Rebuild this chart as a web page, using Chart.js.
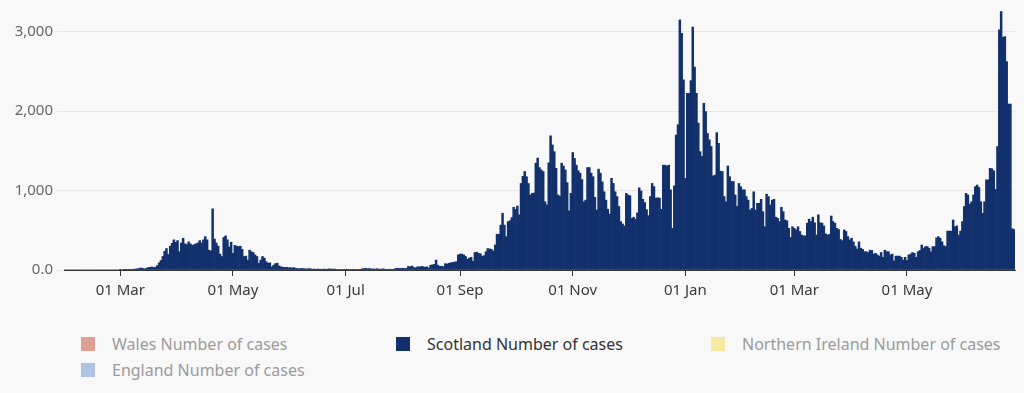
<!DOCTYPE html>
<html>
<head>
<meta charset="utf-8">
<script src="https://cdn.jsdelivr.net/npm/chart.js@4.4.0/dist/chart.umd.min.js"></script>
<style>
  html, body { margin: 0; padding: 0; background: #f8f8f8; }
  body { width: 1024px; height: 393px; overflow: hidden; font-family: "Noto Sans", sans-serif; position: relative; }
  #wrap { position: absolute; left: 0; top: 0; width: 1024px; height: 315px; }
  #legend { position: absolute; left: 81px; top: 335px; display: grid; grid-template-columns: 315px 315px 315px; row-gap: 8px; }
  .item { display: flex; align-items: center; height: 18px; font-size: 16px; color: #9b9b9b; white-space: nowrap; }
  .item.on { color: #333; }
  .box { width: 14px; height: 14px; margin-right: 17px; flex: none; }
</style>
</head>
<body>
<div id="wrap"><canvas id="casesChart" width="1024" height="315"></canvas></div>
<div id="legend"></div>
<script>
document.addEventListener('DOMContentLoaded', function () {
    // Scotland, daily number of cases, one array per month (first day 31 Jan 2020)
    var startDate = '2020-01-31';
    var jan2020 = [0];
    var feb2020 = [0, 0, 0, 0, 0, 0, 0, 0, 0, 0, 0, 0, 0, 0, 0, 0, 0, 0, 0, 0, 0, 0, 0, 0, 0, 0, 0, 0, 0];
    var mar2020 = [1, 0, 1, 2, 3, 5, 4, 8, 12, 14, 18, 25, 22, 14, 20, 30, 34, 38, 32, 36, 55, 90, 120, 170, 235, 270, 195, 300, 335, 380, 350];
    var apr2020 = [370, 230, 340, 400, 330, 320, 355, 330, 310, 320, 330, 340, 370, 340, 380, 420, 380, 250, 240, 770, 390, 340, 300, 200, 170, 410, 430, 380, 290, 350];
    var may2020 = [210, 310, 300, 295, 300, 260, 170, 175, 125, 250, 230, 220, 190, 170, 85, 125, 170, 150, 105, 85, 90, 40, 60, 80, 85, 50, 40, 35, 30, 35, 28];
    var jun2020 = [30, 25, 30, 20, 18, 15, 20, 17, 15, 12, 18, 15, 10, 12, 9, 11, 10, 8, 12, 10, 9, 15, 12, 10, 12, 8, 6, 7, 5, 6];
    var jul2020 = [5, 4, 6, 5, 3, 4, 6, 5, 4, 15, 18, 20, 16, 19, 12, 14, 10, 16, 12, 10, 14, 11, 9, 8, 10, 8, 9, 18, 22, 20, 19];
    var aug2020 = [21, 18, 22, 45, 40, 50, 30, 28, 40, 38, 45, 42, 35, 40, 25, 60, 65, 70, 125, 60, 45, 48, 42, 80, 75, 85, 90, 95, 100, 105, 190];
    var sep2020 = [200, 200, 190, 170, 135, 150, 160, 110, 220, 225, 210, 205, 175, 180, 230, 270, 265, 260, 240, 315, 450, 450, 565, 715, 565, 420, 610, 620, 660, 790];
    var oct2020 = [765, 805, 695, 1090, 1180, 1240, 1175, 1090, 945, 965, 970, 1345, 1410, 1290, 1260, 1240, 860, 820, 1350, 1690, 1575, 1490, 1280, 945, 930, 1345, 1310, 1260, 1100, 745, 965];
    var nov2020 = [1480, 1405, 1320, 1250, 1220, 1140, 860, 880, 1290, 1290, 1220, 1175, 915, 755, 1270, 1220, 1110, 985, 880, 765, 705, 1155, 1090, 985, 925, 800, 610, 580, 555, 965];
    var dec2020 = [945, 935, 650, 665, 640, 720, 1035, 995, 890, 850, 760, 685, 925, 1090, 1050, 905, 910, 905, 765, 1320, 1320, 1310, 1320, 1010, 525, 1060, 1700, 1830, 3150, 2980, 2395];
    var jan2021 = [1155, 2225, 2225, 2385, 3060, 2555, 2225, 1850, 1490, 1430, 2100, 1995, 1720, 1640, 1555, 1185, 1195, 1730, 1595, 1245, 1240, 925, 860, 1310, 1175, 1115, 1115, 945, 800, 1090, 1050];
    var feb2021 = [1010, 1010, 925, 880, 755, 775, 985, 755, 840, 840, 890, 735, 545, 955, 925, 820, 880, 890, 665, 650, 610, 790, 735, 630, 620, 525, 410, 545];
    var mar2021 = [525, 505, 545, 485, 440, 430, 430, 590, 640, 610, 665, 595, 440, 695, 595, 590, 555, 455, 440, 450, 680, 610, 590, 525, 510, 385, 370, 505, 485, 420, 380];
    var apr2021 = [400, 355, 300, 265, 355, 275, 260, 230, 230, 220, 250, 245, 200, 210, 190, 175, 220, 160, 250, 230, 230, 190, 200, 115, 175, 175, 175, 160, 125, 160];
    var may2021 = [120, 190, 200, 220, 210, 160, 230, 245, 315, 275, 295, 295, 275, 230, 295, 295, 405, 420, 400, 355, 305, 295, 490, 490, 490, 630, 545, 555, 440, 490, 610];
    var jun2021 = [800, 965, 945, 830, 860, 945, 1050, 1070, 1040, 860, 715, 860, 1135, 1135, 1280, 1275, 1250, 1015, 1555, 3025, 3255, 2930, 2940, 2625, 2090, 2090, 520, 510];

    // dates that get a label on the x axis
    var tickDates = ['2020-03-01', '2020-05-01', '2020-07-01', '2020-09-01', '2020-11-01', '2021-01-01', '2021-03-01', '2021-05-01'];
    var yTicks = [0, 1000, 2000, 3000];

    var legendNames = ['Wales Number of cases', 'Scotland Number of cases', 'Northern Ireland Number of cases', 'England Number of cases'];
    var legendColours = ['#e0a095', '#12306c', '#f6e8a0', '#adc5e2'];
    var activeSeries = 'Scotland Number of cases';

    var cases = [].concat(jan2020, feb2020, mar2020, apr2020, may2020, jun2020, jul2020, aug2020,
        sep2020, oct2020, nov2020, dec2020, jan2021, feb2021, mar2021, apr2021, may2021, jun2021);

    var monthNames = ['Jan', 'Feb', 'Mar', 'Apr', 'May', 'Jun', 'Jul', 'Aug', 'Sep', 'Oct', 'Nov', 'Dec'];
    var labels = [];
    var first = new Date(startDate + 'T00:00:00Z');
    for (var i = 0; i < cases.length; i++) {
        var d = new Date(first.getTime() + i * 86400000);
        labels.push(d.toISOString().slice(0, 10));
    }
    function shortDate(iso) {
        var p = iso.split('-');
        return p[2] + ' ' + monthNames[parseInt(p[1], 10) - 1];
    }

    Chart.defaults.font.family = '"Noto Sans", sans-serif';

    var ctx = document.getElementById('casesChart').getContext('2d');
    new Chart(ctx, {
        type: 'bar',
        data: {
            labels: labels,
            datasets: [{
                label: activeSeries,
                data: cases,
                backgroundColor: '#12306c',
                borderWidth: 0,
                barPercentage: 1.0,
                categoryPercentage: 1.0
            }]
        },
        options: {
            responsive: false,
            animation: false,
            devicePixelRatio: 1,
            layout: { padding: { top: 8, right: 9, left: 0, bottom: 0 } },
            plugins: { legend: { display: false }, tooltip: { enabled: false } },
            scales: {
                x: {
                    offset: true,
                    grid: {
                        drawOnChartArea: false,
                        drawTicks: true,
                        tickLength: 6,
                        offset: false,
                        color: function (c) {
                            return tickDates.indexOf(labels[c.index]) >= 0 ? '#333' : 'rgba(0,0,0,0)';
                        }
                    },
                    border: { display: true, color: '#333', width: 1 },
                    ticks: {
                        autoSkip: false,
                        maxRotation: 0,
                        minRotation: 0,
                        padding: 6,
                        color: '#3a3a3a',
                        font: { size: 15 },
                        callback: function (v, idx) {
                            return tickDates.indexOf(labels[idx]) >= 0 ? shortDate(labels[idx]) : '';
                        }
                    },
                    afterFit: function (axis) { axis.height = 45; }
                },
                y: {
                    min: 0,
                    max: 3300,
                    border: { display: false },
                    grid: { color: '#e7e7e7', tickLength: 7 },
                    ticks: {
                        autoSkip: false,
                        padding: 4,
                        color: '#666',
                        font: { size: 15 },
                        callback: function (v) {
                            return v === 0 ? '0.0' : v.toLocaleString('en-GB');
                        }
                    },
                    afterBuildTicks: function (axis) {
                        axis.ticks = yTicks.map(function (v) { return { value: v }; });
                    },
                    afterFit: function (axis) {
                        axis.width = 64;
                        axis.paddingTop = 0;
                        axis.paddingBottom = 0;
                    }
                }
            }
        }
    });

    // legend under the chart
    var legend = document.getElementById('legend');
    legendNames.forEach(function (name, k) {
        var item = document.createElement('div');
        item.className = 'item' + (name === activeSeries ? ' on' : '');
        var box = document.createElement('span');
        box.className = 'box';
        box.style.background = legendColours[k];
        item.appendChild(box);
        item.appendChild(document.createTextNode(name));
        legend.appendChild(item);
    });
});
</script>
</body>
</html>
